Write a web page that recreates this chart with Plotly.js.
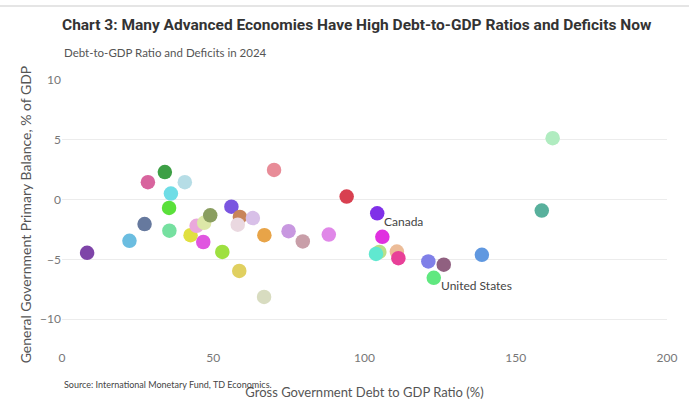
<!DOCTYPE html>
<html>
<head>
<meta charset="utf-8">
<script src="https://cdn.plot.ly/plotly-3.0.1.min.js"></script>
<style>html,body{margin:0;padding:0;background:#fff;}#chart{width:689px;height:400px;}</style>
</head>
<body>
<div id="chart"></div>
<script>
// Gross government debt (% of GDP), 2024
const debt = [8.3, 22.3, 27.3, 28.4, 34.0, 36.0, 35.4, 35.5, 40.6, 42.5, 44.5, 47.0, 49.0, 46.7, 53.0, 56.0, 58.8, 58.1, 63.1, 58.6, 66.8, 66.9, 70.1, 74.9, 79.6, 88.2, 94.1, 104.2, 105.9, 104.9, 103.8, 110.7, 111.2, 121.1, 126.2, 122.9, 138.8, 158.6, 162.2];
// General government primary balance (% of GDP), 2024
const balance = [-4.45, -3.45, -2.05, 1.45, 2.3, 0.5, -0.7, -2.6, 1.45, -2.98, -2.2, -1.95, -1.32, -3.55, -4.38, -0.6, -1.45, -2.1, -1.55, -5.97, -8.15, -2.98, 2.48, -2.65, -3.5, -2.93, 0.25, -1.15, -3.12, -4.38, -4.55, -4.35, -4.9, -5.18, -5.45, -6.55, -4.62, -0.92, 5.13];
const labels = ["", "", "", "", "", "", "", "", "", "", "", "", "", "", "", "", "", "", "", "", "", "", "", "", "", "", "", "Canada", "", "", "", "", "", "", "", "United States", "", "", ""];
const colors = ["#7e44a8", "#6bbde0", "#66799e", "#d8649e", "#3d9f45", "#6fdde6", "#5ae03a", "#76e0a0", "#b6dde6", "#e0e040", "#eaa8dc", "#dde8a8", "#8a9e60", "#e055e0", "#9ee040", "#7a55e0", "#c8845a", "#ead8e0", "#d8c0e8", "#e0d060", "#d8dcc0", "#e8a448", "#e88c98", "#c898e0", "#c89ea8", "#e088e8", "#d84050", "#8030e8", "#e030e0", "#b8e088", "#60e8d0", "#ecbc98", "#e84098", "#8080e8", "#906080", "#60e880", "#6098e0", "#58b09c", "#b0ecc0"];
const xTicks = [0, 50, 100, 150, 200];
const yTicks = [-10, -5, 0, 5, 10];

const trace = {
  type: 'scatter', mode: 'markers',
  x: debt, y: balance,
  marker: {size: 14.5, color: colors, line: {width: 0}},
  hoverinfo: 'x+y'
};

const ann = [];
labels.forEach((t, i) => {
  if (t) ann.push({x: debt[i], y: balance[i], xref: 'x', yref: 'y', text: t, showarrow: false,
    xanchor: 'left', yanchor: 'middle', xshift: 5, yshift: -8,
    font: {family: 'Lato, sans-serif', size: 12, color: '#444'}});
});
ann.push({xref: 'paper', yref: 'paper', x: 0, y: 1.104, xanchor: 'left', yanchor: 'middle',
  text: 'Debt-to-GDP Ratio and Deficits in 2024', showarrow: false,
  font: {family: 'Lato, sans-serif', size: 11.5, color: '#555'}});
ann.push({xref: 'paper', yref: 'paper', x: 0, y: -0.132, xanchor: 'left', yanchor: 'middle',
  text: 'Source: International Monetary Fund, TD Economics.', showarrow: false,
  font: {family: 'Lato, sans-serif', size: 9, color: '#444'}});

const layout = {
  width: 689, height: 400,
  margin: {l: 62, r: 22, t: 80, b: 51},
  paper_bgcolor: '#fff', plot_bgcolor: '#fff',
  showlegend: false,
  title: {text: '<b>Chart 3: Many Advanced Economies Have High Debt-to-GDP Ratios and Deficits Now</b>',
    xref: 'container', yref: 'container', x: 62/689, xanchor: 'left', y: 1 - 25/400, yanchor: 'middle',
    font: {family: 'Roboto, sans-serif', size: 15.5, color: '#333'}},
  xaxis: {range: [0, 200], tickvals: xTicks, showgrid: false, zeroline: false, showline: false,
    ticks: '', ticklabelstandoff: 0,
    tickfont: {family: 'Lato, sans-serif', size: 12, color: '#777'},
    title: {text: 'Gross Government Debt to GDP Ratio (%)', standoff: 42,
      font: {family: 'Lato, sans-serif', size: 13, color: '#555'}}},
  yaxis: {range: [-12.5, 10], tickvals: yTicks, showgrid: true, gridcolor: '#ececec', gridwidth: 1,
    zeroline: false, showline: false, ticks: '',
    tickfont: {family: 'Lato, sans-serif', size: 12, color: '#777'},
    title: {text: 'General Government Primary Balance, % of GDP', standoff: 5,
      font: {family: 'Lato, sans-serif', size: 14, color: '#555'}}},
  annotations: ann,
  shapes: [{type: 'line', xref: 'paper', yref: 'paper', x0: -62/605, x1: 1 + 22/605, y0: 1 + 74/269, y1: 1 + 74/269,
    line: {color: '#dddddd', width: 1.5}}]
};

Plotly.newPlot('chart', [trace], layout, {displayModeBar: false, staticPlot: true});
</script>
</body>
</html>
